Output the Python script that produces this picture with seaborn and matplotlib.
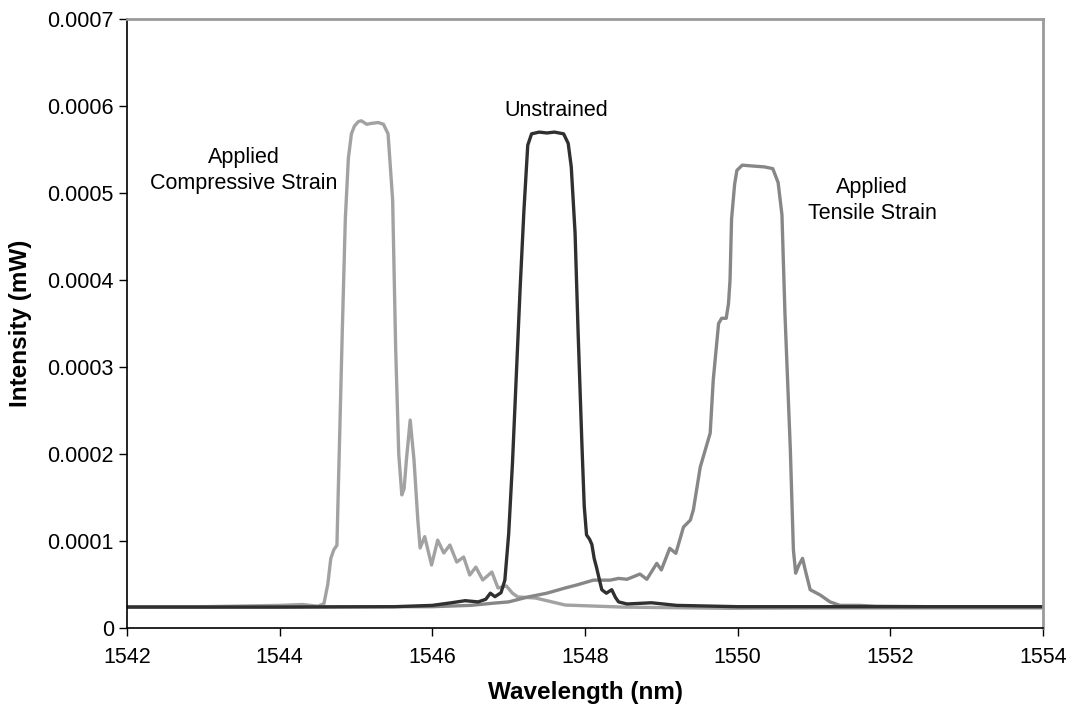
import matplotlib
matplotlib.use("Agg")
import matplotlib.pyplot as plt
from matplotlib.ticker import FuncFormatter, MultipleLocator
import seaborn as sns
import pandas as pd

# ---------------- data ----------------
comp_x = [1542.0, 1543.0, 1544.0, 1544.3, 1544.5, 1544.58, 1544.63, 1544.67, 1544.71, 1544.75,
          1544.78, 1544.82, 1544.86, 1544.90, 1544.94, 1544.98, 1545.03, 1545.07, 1545.14, 1545.2,
          1545.29, 1545.36, 1545.42, 1545.45, 1545.48, 1545.52, 1545.56, 1545.60, 1545.63, 1545.66,
          1545.71, 1545.76, 1545.81, 1545.84, 1545.90, 1545.99, 1546.07, 1546.15, 1546.23, 1546.32,
          1546.41, 1546.49, 1546.57, 1546.66, 1546.78, 1546.86, 1546.97, 1547.05, 1547.12, 1547.35,
          1547.74, 1548.5, 1549.9, 1551.0, 1552.0, 1553.0, 1554.0]
comp_y = [0.0000245, 0.0000245, 0.000026, 0.000027, 0.000025, 0.000028, 0.00005, 0.00008, 0.00009, 0.000095,
          0.0002, 0.00034, 0.00047, 0.00054, 0.000568, 0.000577, 0.000582, 0.000583, 0.000579, 0.00058,
          0.000581, 0.000579, 0.000568, 0.00053, 0.000492, 0.00032, 0.0002, 0.000153, 0.00016, 0.000193,
          0.000239, 0.000193, 0.000124, 0.000092, 0.000105, 0.0000724, 0.000101, 0.0000862, 0.0000954, 0.0000758,
          0.0000816, 0.0000609, 0.00007, 0.0000552, 0.0000643, 0.000046, 0.0000483, 0.00004, 0.0000357, 0.0000345,
          0.0000264, 0.000024, 0.0000226, 0.000023, 0.000023, 0.000023, 0.000023]

unst_x = [1542.0, 1544.0, 1545.5, 1546.0, 1546.25, 1546.43, 1546.6, 1546.7, 1546.76, 1546.82,
          1546.9, 1546.95, 1547.0, 1547.05, 1547.1, 1547.15, 1547.2, 1547.25, 1547.3, 1547.4,
          1547.5, 1547.6, 1547.72, 1547.78, 1547.82, 1547.87, 1547.91, 1547.96, 1547.99, 1548.02,
          1548.06, 1548.09, 1548.12, 1548.15, 1548.19, 1548.22, 1548.28, 1548.35, 1548.4, 1548.44,
          1548.55, 1548.87, 1549.2, 1550.0, 1552.0, 1554.0]
unst_y = [0.000024, 0.000024, 0.0000245, 0.000026, 0.000029, 0.0000314, 0.00003, 0.000033, 0.00004, 0.000036,
          0.0000406, 0.000055, 0.000108, 0.00019, 0.00029, 0.00039, 0.00048, 0.000555, 0.000568, 0.00057,
          0.000569, 0.00057, 0.000568, 0.000557, 0.00053, 0.000454, 0.000339, 0.00021, 0.00014, 0.000107,
          0.000102, 0.000096, 0.00008, 0.00007, 0.000055, 0.000044, 0.00004, 0.000044, 0.000035, 0.00003,
          0.0000276, 0.000029, 0.000026, 0.0000245, 0.0000245, 0.0000245]

tens_x = [1542.0, 1544.0, 1546.0, 1546.5, 1546.82, 1547.0, 1547.25, 1547.5, 1547.74, 1547.89,
          1548.11, 1548.33, 1548.44, 1548.55, 1548.72, 1548.81, 1548.94, 1549.0, 1549.11, 1549.19,
          1549.29, 1549.38, 1549.42, 1549.51, 1549.58, 1549.64, 1549.68, 1549.75, 1549.79, 1549.85,
          1549.88, 1549.90, 1549.92, 1549.96, 1549.99, 1550.06, 1550.2, 1550.35, 1550.46, 1550.53,
          1550.58, 1550.62, 1550.69, 1550.73, 1550.76, 1550.80, 1550.85, 1550.89, 1550.95, 1551.08,
          1551.21, 1551.34, 1551.6, 1551.8, 1552.5, 1554.0]
tens_y = [0.0000245, 0.0000245, 0.0000245, 0.000026, 0.0000287, 0.00003, 0.0000356, 0.00004, 0.000046, 0.0000494,
          0.000055, 0.000055, 0.000057, 0.000056, 0.000062, 0.000056, 0.0000743, 0.0000667, 0.0000916, 0.0000858,
          0.000116, 0.000124, 0.000136, 0.000185, 0.000206, 0.000224, 0.000285, 0.00035, 0.000356, 0.000356,
          0.000373, 0.0004, 0.00047, 0.00051, 0.000526, 0.000532, 0.000531, 0.00053, 0.000528, 0.000512,
          0.000475, 0.00036, 0.000205, 0.00009, 0.000063, 0.000072, 0.00008, 0.000065, 0.000044, 0.000038,
          0.00003, 0.000026, 0.000026, 0.000025, 0.0000245, 0.0000245]

series_names = ["Applied Compressive Strain", "Applied Tensile Strain", "Unstrained"]
series_colors = ["#a2a2a2", "#878787", "#303030"]

x_ticks = [1542, 1544, 1546, 1548, 1550, 1552, 1554]

# ---------------- figure ----------------
sns.set_style("ticks")
plt.rcParams["font.family"] = ["Liberation Sans", "DejaVu Sans"]
plt.rcParams["text.color"] = "black"
plt.rcParams["axes.labelcolor"] = "black"
plt.rcParams["xtick.color"] = "black"
plt.rcParams["ytick.color"] = "black"

df = pd.concat([
    pd.DataFrame({"Wavelength": comp_x, "Intensity": comp_y, "Series": series_names[0]}),
    pd.DataFrame({"Wavelength": tens_x, "Intensity": tens_y, "Series": series_names[1]}),
    pd.DataFrame({"Wavelength": unst_x, "Intensity": unst_y, "Series": series_names[2]}),
], ignore_index=True)

fig = plt.figure(figsize=(10.76, 7.13), dpi=100)
ax = fig.add_axes([127 / 1076, 85 / 713, (1043 - 127) / 1076, (628 - 19) / 713])

sns.lineplot(data=df, x="Wavelength", y="Intensity", hue="Series",
             hue_order=series_names, palette=dict(zip(series_names, series_colors)),
             linewidth=2.4, legend=False, ax=ax, estimator=None, sort=False)

ax.set_xlim(1542, 1554)
ax.set_ylim(0, 0.0007)
ax.set_xticks(x_ticks)
ax.yaxis.set_major_locator(MultipleLocator(0.0001))
ax.yaxis.set_major_formatter(FuncFormatter(lambda v, p: "0" if abs(v) < 1e-12 else f"{v:.4f}"))
ax.tick_params(axis="both", labelsize=15.5, length=6, width=1, colors="black", direction="out")
ax.tick_params(axis="x", pad=8)

ax.set_xlabel("Wavelength (nm)", fontsize=17.5, fontweight="bold", labelpad=9, color="black")
ax.set_ylabel("Intensity (mW)", fontsize=17.5, fontweight="bold", labelpad=11, color="black")

for side in ["left", "bottom"]:
    ax.spines[side].set_color("black")
    ax.spines[side].set_linewidth(1.2)
for side in ["top", "right"]:
    ax.spines[side].set_visible(True)
    ax.spines[side].set_color("#9a9a9a")
    ax.spines[side].set_linewidth(2.0)

ax.text(1543.53, 0.000526, "Applied\nCompressive Strain", ha="center", va="center",
        fontsize=15.5, linespacing=1.3, color="black")
ax.text(1547.62, 0.000595, "Unstrained", ha="center", va="center", fontsize=15.5, color="black")
ax.text(1551.76, 0.000491, "Applied\nTensile Strain", ha="center", va="center",
        fontsize=15.5, linespacing=1.3, color="black")

fig.savefig("out.png", dpi=100, facecolor="white")
